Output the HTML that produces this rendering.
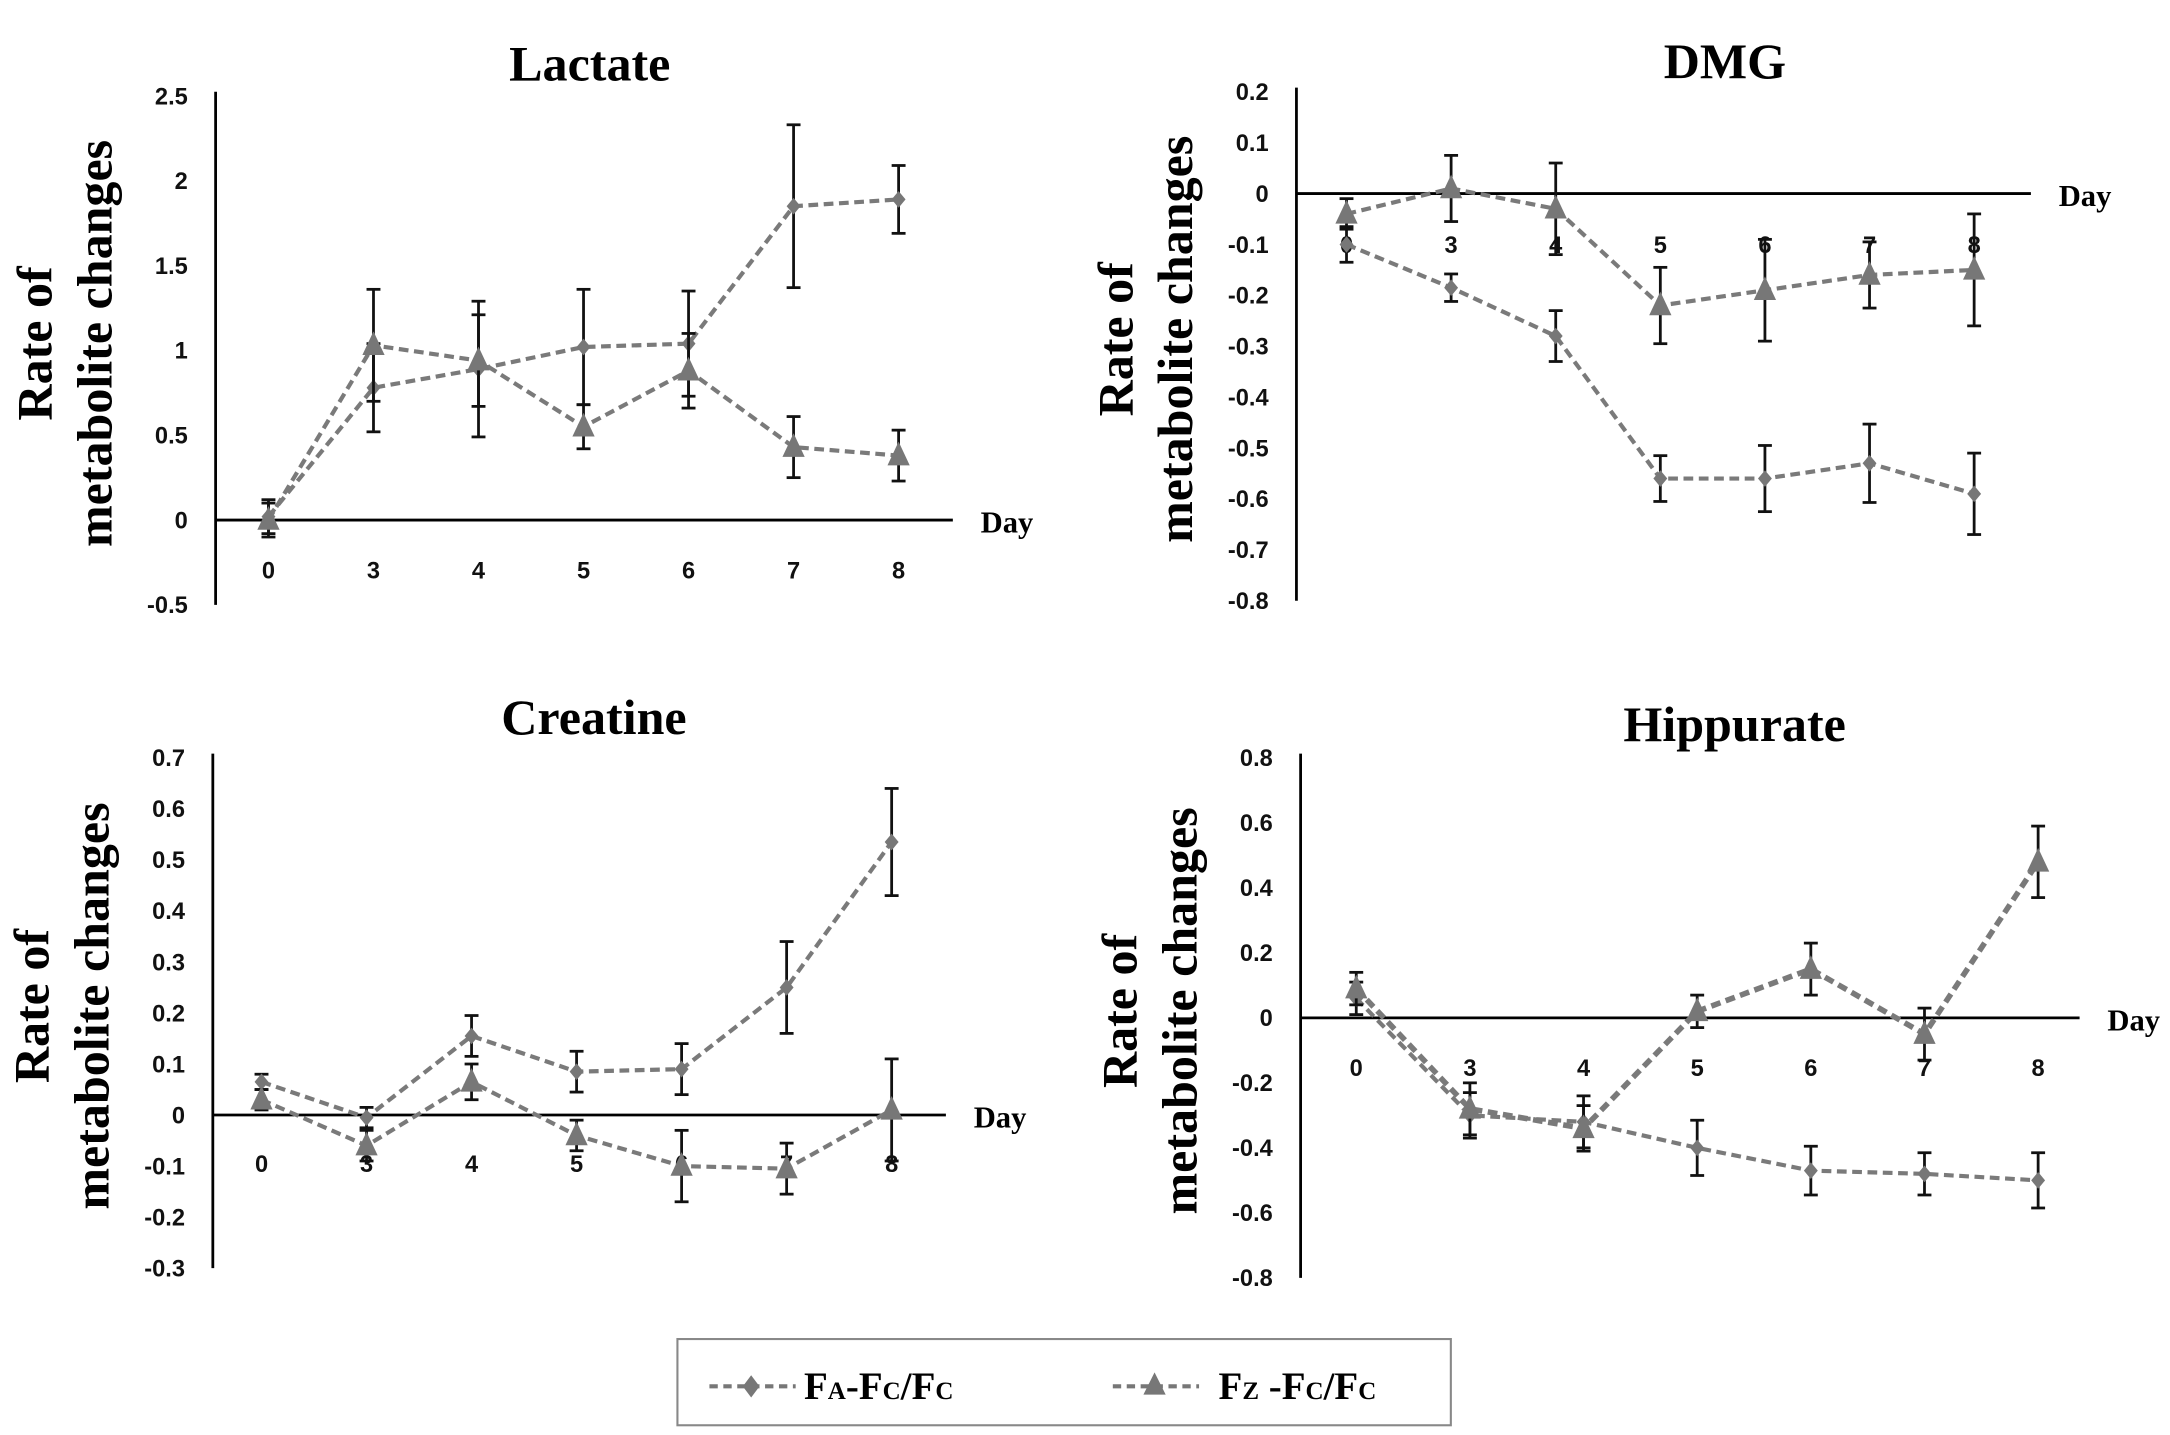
<!DOCTYPE html>
<html><head><meta charset="utf-8"><style>
html,body{margin:0;padding:0;background:#fff}
svg{display:block}
.t{font-family:"Liberation Serif",serif;font-weight:bold;fill:#000}
.k{font-family:"Liberation Sans",sans-serif;font-weight:bold;fill:#111;font-size:17px}
</style></head><body>
<svg id="c" width="2170" height="1435" viewBox="0 0 1560 1032" preserveAspectRatio="none" xmlns="http://www.w3.org/2000/svg">
<g id="legend">
<rect x="487" y="963" width="556" height="62" fill="#fff" stroke="#888" stroke-width="1.5"/>
<g>
<line x1="510" y1="997" x2="572" y2="997" stroke="#777" stroke-width="3" stroke-dasharray="6,4"/>
<polygon points="540,989 546,997 540,1005 534,997" fill="#777"/>
<text class="t" x="578" y="1006" font-size="28">F<tspan font-size="18">A</tspan>-F<tspan font-size="18">C</tspan>/F<tspan font-size="18">C</tspan></text>
</g>
<g>
<line x1="800" y1="997" x2="862" y2="997" stroke="#777" stroke-width="3" stroke-dasharray="6,4"/>
<polygon points="830,987 838,1003 822,1003" fill="#777"/>
<text class="t" x="876" y="1006" font-size="28">F<tspan font-size="18">Z</tspan> -F<tspan font-size="18">C</tspan>/F<tspan font-size="18">C</tspan></text>
</g>
</g>
</svg>
<script>
const days = ["0","3","4","5","6","7","8"];
const lactateFA = [0.02,0.78,0.89,1.02,1.04,1.85,1.89];
const lactateFAerr = [0.1,0.26,0.4,0.34,0.31,0.48,0.2];
const lactateFZ = [0.0,1.03,0.94,0.55,0.88,0.43,0.38];
const lactateFZerr = [0.1,0.33,0.27,0.13,0.22,0.18,0.15];
const lactateTicks = [2.5,2,1.5,1,0.5,0,-0.5];
const dmgFA = [-0.1,-0.185,-0.28,-0.56,-0.56,-0.53,-0.59];
const dmgFAerr = [0.035,0.027,0.05,0.045,0.065,0.077,0.08];
const dmgFZ = [-0.04,0.01,-0.03,-0.22,-0.19,-0.16,-0.15];
const dmgFZerr = [0.03,0.065,0.09,0.075,0.1,0.065,0.11];
const dmgTicks = [0.2,0.1,0,-0.1,-0.2,-0.3,-0.4,-0.5,-0.6,-0.7,-0.8];
const creatineFA = [0.065,-0.005,0.155,0.085,0.09,0.25,0.535];
const creatineFAerr = [0.015,0.02,0.04,0.04,0.05,0.09,0.105];
const creatineFZ = [0.03,-0.06,0.065,-0.04,-0.1,-0.105,0.01];
const creatineFZerr = [0.02,0.03,0.035,0.03,0.07,0.05,0.1];
const creatineTicks = [0.7,0.6,0.5,0.4,0.3,0.2,0.1,0,-0.1,-0.2,-0.3];
const hippFA = [0.06,-0.3,-0.32,-0.4,-0.47,-0.48,-0.5];
const hippFAerr = [0.05,0.07,0.08,0.085,0.075,0.065,0.085];
const hippFZ = [0.09,-0.28,-0.34,0.02,0.15,-0.05,0.48];
const hippFZerr = [0.05,0.08,0.07,0.05,0.08,0.08,0.11];
const hippTicks = [0.8,0.6,0.4,0.2,0,-0.2,-0.4,-0.6,-0.8];

const NS="http://www.w3.org/2000/svg";
const svg=document.getElementById('c');
function mk(tag,attrs,parent){const e=document.createElementNS(NS,tag);for(const k in attrs)e.setAttribute(k,attrs[k]);(parent||svg).appendChild(e);return e;}

function panel(p){
  const g=mk('g',{});
  
  
  const yMax=p.ticks[0], yMin=p.ticks[p.ticks.length-1];
  const ys=v=>p.yTop+(yMax-v)/(yMax-yMin)*(p.yBot-p.yTop);
  const xs=i=>p.x0+i*p.dx;
  const tt=mk('text',{class:'t',x:p.tx,y:p.ty,'text-anchor':'middle','font-size':36},g);
  tt.textContent=p.title;
  
  
  const yt=mk('text',{class:'t','font-size':36,'text-anchor':'middle',transform:`translate(${p.ax-118},${(p.yTop+p.yBot)/2-5}) rotate(-90)`},g);
  yt.textContent='Rate of';
  
  
  const yt2=mk('text',{class:'t','font-size':36,'text-anchor':'middle',transform:`translate(${p.ax-75},${(p.yTop+p.yBot)/2-5}) rotate(-90)`},g);
  yt2.textContent='metabolite changes';
  
  
  mk('line',{x1:p.ax,y1:p.yTop-3,x2:p.ax,y2:p.yBot,stroke:'#000','stroke-width':2},g);
  mk('line',{x1:p.ax,y1:ys(0),x2:p.axEnd,y2:ys(0),stroke:'#000','stroke-width':2},g);
  const dl=mk('text',{class:'t','font-size':22,x:p.axEnd+20,y:ys(0)+9},g);
  dl.textContent='Day';
  
  
  p.ticks.forEach(v=>{
    const t=mk('text',{class:'k',x:p.ax-20,y:ys(v)+6,'text-anchor':'end'},g);
    t.textContent=String(v);
    
    
  });
  days.forEach((d,i)=>{
    const t=mk('text',{class:'k',x:xs(i),y:p.labY,'text-anchor':'middle'},g);
    t.textContent=d;
    
    
  });
  [[p.fa,p.faErr,'fa'],[p.fz,p.fzErr,'fz']].forEach(([vals,errs,s])=>{
    const thick = (s==='fz'&&p.name==='hippurate')?4:3;
    mk('polyline',{points:vals.map((v,i)=>xs(i)+','+ys(v)).join(' '),fill:'none',stroke:'#7a7a7a','stroke-width':thick,'stroke-dasharray':'7,4'},g);
    vals.forEach((v,i)=>{
      const x=xs(i),y=ys(v),e=errs[i];
      const eg=mk('g',{stroke:'#111','stroke-width':2},g);
      
      
      mk('line',{x1:x,y1:ys(v+e),x2:x,y2:ys(v-e)},eg);
      mk('line',{x1:x-5,y1:ys(v+e),x2:x+5,y2:ys(v+e)},eg);
      mk('line',{x1:x-5,y1:ys(v-e),x2:x+5,y2:ys(v-e)},eg);
      let m;
      if(s==='fa') m=mk('polygon',{points:`${x},${y-6} ${x+5},${y} ${x},${y+6} ${x-5},${y}`,fill:'#777'},g);
      else m=mk('polygon',{points:`${x},${y-10} ${x+8},${y+7} ${x-8},${y+7}`,fill:'#777'},g);
      
      
    });
  });
}
panel({name:'lactate',title:'Lactate',tx:424,ty:58,ax:155,axEnd:685,yTop:69,yBot:435,x0:193,dx:75.5,labY:416,ticks:lactateTicks,fa:lactateFA,faErr:lactateFAerr,fz:lactateFZ,fzErr:lactateFZerr});
panel({name:'dmg',title:'DMG',tx:1240,ty:56,ax:932,axEnd:1460,yTop:66,yBot:432,x0:968,dx:75.2,labY:182,ticks:dmgTicks,fa:dmgFA,faErr:dmgFAerr,fz:dmgFZ,fzErr:dmgFZerr});
panel({name:'creatine',title:'Creatine',tx:427,ty:528,ax:153,axEnd:680,yTop:545,yBot:912,x0:188,dx:75.5,labY:843,ticks:creatineTicks,fa:creatineFA,faErr:creatineFAerr,fz:creatineFZ,fzErr:creatineFZerr});
panel({name:'hippurate',title:'Hippurate',tx:1247,ty:533,ax:935,axEnd:1495,yTop:545,yBot:919,x0:975,dx:81.7,labY:774,ticks:hippTicks,fa:hippFA,faErr:hippFAerr,fz:hippFZ,fzErr:hippFZerr});
</script>
</body></html>
